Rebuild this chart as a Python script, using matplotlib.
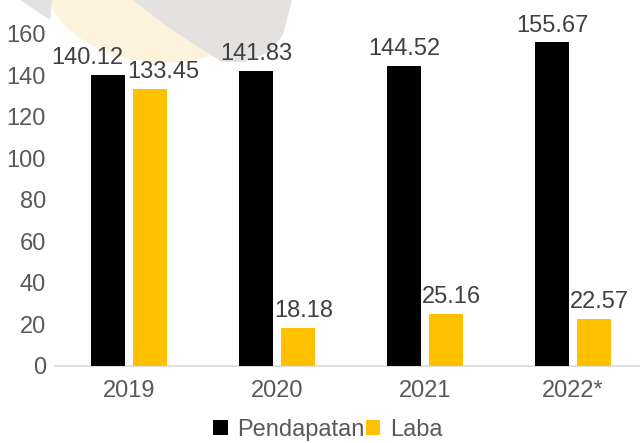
import matplotlib
matplotlib.use("Agg")
import matplotlib.pyplot as plt
from matplotlib.patches import Ellipse, Polygon, Patch
import numpy as np

categories = ["2019", "2020", "2021", "2022*"]
pendapatan = [140.12, 141.83, 144.52, 155.67]
laba = [133.45, 18.18, 25.16, 22.57]
yticks = [0, 20, 40, 60, 80, 100, 120, 140, 160]

plt.rcParams['font.family'] = ['Liberation Sans', 'DejaVu Sans']

W, H = 640, 443
fig = plt.figure(figsize=(W / 100, H / 100), dpi=100)

# faint watermark background
bg = fig.add_axes([0, 0, 1, 1], zorder=-10)
bg.set_xlim(0, W)
bg.set_ylim(H, 0)
bg.axis('off')
bg.add_patch(Ellipse((165, -20), 240, 165, facecolor='#fdf3dc', edgecolor='none'))
bg.add_patch(Polygon([(133, 0), (292, 0), (283, 35), (270, 52), (245, 62),
                      (222, 62), (195, 45), (165, 25)],
                     closed=True, facecolor='#e4e2e0', edgecolor='none'))
bg.add_patch(Polygon([(20, 0), (52, 0), (50, 20)], closed=True,
                     facecolor='#e4e2e0', edgecolor='none'))

ax = fig.add_axes([55 / W, 77 / H, 592 / W, 332.5 / H])
ax.patch.set_alpha(0)

x = np.arange(len(categories))
bw = 0.23
off = 0.142
b1 = ax.bar(x - off, pendapatan, bw, color='#000000', label='Pendapatan', zorder=3)
b2 = ax.bar(x + off, laba, bw, color='#FFC000', label='Laba', zorder=3)

ax.set_xlim(-0.5, len(categories) - 0.5)
ax.set_ylim(0, 160)
ax.set_yticks(yticks)
ax.set_xticks(x)
ax.set_xticklabels(categories)

for s in ['top', 'right', 'left']:
    ax.spines[s].set_visible(False)
ax.spines['bottom'].set_color('#d9d9d9')
ax.spines['bottom'].set_linewidth(1.2)
ax.tick_params(axis='both', length=0, labelsize=17, labelcolor='#595959')
ax.tick_params(axis='y', pad=6.5)
ax.tick_params(axis='x', pad=10)

lab_color = '#404040'
dx1 = [-15, 0, 0, 0]
dx2 = [9.4, 4, 4, 4]
for i in range(len(categories)):
    ax.annotate(f"{pendapatan[i]:.2f}", (x[i] - off, pendapatan[i]),
                xytext=(dx1[i], 7.8), textcoords='offset points',
                ha='center', va='baseline', fontsize=17, color=lab_color,
                annotation_clip=False)
    ax.annotate(f"{laba[i]:.2f}", (x[i] + off, laba[i]),
                xytext=(dx2[i], 7.8), textcoords='offset points',
                ha='center', va='baseline', fontsize=17, color=lab_color,
                annotation_clip=False)

handles = [Patch(facecolor='#000000', label='Pendapatan'),
           Patch(facecolor='#FFC000', label='Laba')]
leg = fig.legend(handles=handles, loc='center', ncol=2,
                 bbox_to_anchor=(328 / W, 1 - 430 / H), frameon=False,
                 fontsize=17, handlelength=0.6, handleheight=0.6,
                 handletextpad=0.42, columnspacing=0.05, borderpad=0,
                 borderaxespad=0)
for t in leg.get_texts():
    t.set_color('#595959')

fig.savefig('out.png', dpi=100)
